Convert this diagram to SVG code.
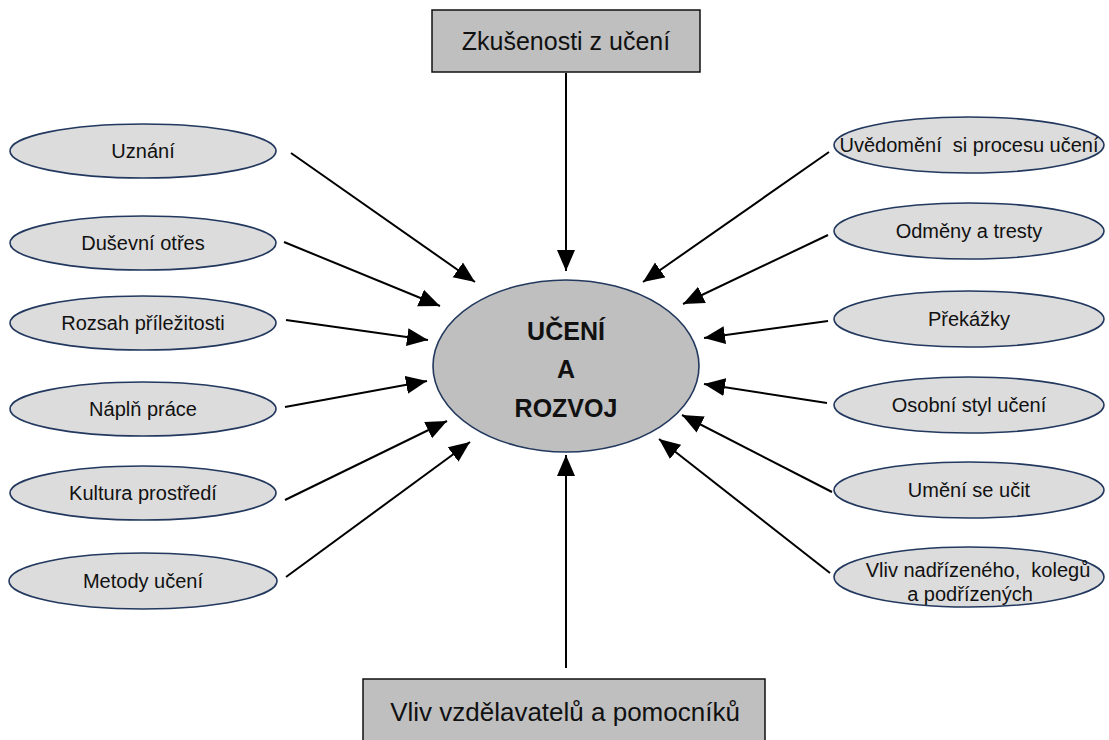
<svg xmlns="http://www.w3.org/2000/svg" width="1109" height="740" viewBox="0 0 1109 740">
<style>
text{font-family:"Liberation Sans",Arial,sans-serif;fill:#111;text-anchor:middle}
.lbl{font-size:20px}
.box{fill:#bfbfbf;stroke:#111;stroke-width:1.5}
.oval{fill:#dcdcdc;stroke:#22385e;stroke-width:1.6}
.core{fill:#bfbfbf;stroke:#22385e;stroke-width:1.6}
.con line{stroke:#000;stroke-width:2;marker-end:url(#ah)}
</style>
<defs>
<marker id="ah" markerUnits="userSpaceOnUse" markerWidth="22" markerHeight="20" refX="21" refY="9" orient="auto" viewBox="0 0 22 18">
<path d="M0,0 L21,9 L0,18 z" fill="#000"/>
</marker>
</defs>
<rect width="1109" height="740" fill="#fff"/>
<g class="con">
<line x1="566" y1="73" x2="566" y2="271"/>
<line x1="566" y1="668" x2="566" y2="455"/>
<line x1="291" y1="153" x2="475" y2="282"/>
<line x1="284" y1="242" x2="440" y2="306"/>
<line x1="286" y1="320" x2="428" y2="340"/>
<line x1="285" y1="407" x2="427" y2="381"/>
<line x1="285" y1="500" x2="447" y2="421"/>
<line x1="286" y1="577" x2="470" y2="442"/>
<line x1="829" y1="152" x2="643" y2="282"/>
<line x1="828" y1="235" x2="683" y2="304"/>
<line x1="828" y1="321" x2="704" y2="338"/>
<line x1="827" y1="403" x2="704" y2="384"/>
<line x1="832" y1="492" x2="682" y2="415"/>
<line x1="830" y1="573" x2="659" y2="439"/>
</g>
<g id="top"><rect class="box" x="432" y="10" width="268" height="62"/><text x="566" y="50" style="font-size:25px">Zkušenosti z učení</text></g>
<g id="bottom"><rect class="box" x="363" y="679" width="402" height="70"/><text x="565" y="721" style="font-size:26px">Vliv vzdělavatelů a pomocníků</text></g>
<g id="center"><ellipse class="core" cx="566" cy="366" rx="133" ry="86"/>
<text x="566" y="340" style="font-size:25px;font-weight:bold">UČENÍ</text>
<text x="566" y="378" style="font-size:25px;font-weight:bold">A</text>
<text x="566" y="417" style="font-size:25px;font-weight:bold">ROZVOJ</text></g>
<g id="uznani"><ellipse class="oval" cx="143" cy="151" rx="133" ry="27"/><text class="lbl" x="143" y="158">Uznání</text></g>
<g id="dusevni"><ellipse class="oval" cx="143" cy="243" rx="133" ry="27"/><text class="lbl" x="143" y="250">Duševní otřes</text></g>
<g id="rozsah"><ellipse class="oval" cx="143" cy="323" rx="133" ry="27"/><text class="lbl" x="143" y="330">Rozsah příležitosti</text></g>
<g id="naplne"><ellipse class="oval" cx="143" cy="409" rx="133" ry="27"/><text class="lbl" x="143" y="416">Náplň práce</text></g>
<g id="kultura"><ellipse class="oval" cx="143" cy="493" rx="133" ry="27"/><text class="lbl" x="143" y="500">Kultura prostředí</text></g>
<g id="metody"><ellipse class="oval" cx="143" cy="581" rx="134" ry="28"/><text class="lbl" x="143" y="588">Metody  učení</text></g>
<g id="uvedomeni"><ellipse class="oval" cx="969" cy="145" rx="135" ry="28"/><text class="lbl" x="969" y="152" xml:space="preserve">Uvědomění  si procesu učení</text></g>
<g id="odmeny"><ellipse class="oval" cx="969" cy="231" rx="135" ry="28"/><text class="lbl" x="969" y="238">Odměny a tresty</text></g>
<g id="prekazky"><ellipse class="oval" cx="969" cy="319" rx="135" ry="28"/><text class="lbl" x="969" y="326">Překážky</text></g>
<g id="osobni"><ellipse class="oval" cx="969" cy="405" rx="135" ry="28"/><text class="lbl" x="969" y="412">Osobní styl učení</text></g>
<g id="umeni"><ellipse class="oval" cx="969" cy="490" rx="135" ry="28"/><text class="lbl" x="969" y="497">Umění se učit</text></g>
<g id="vliv"><ellipse class="oval" cx="969" cy="577" rx="135" ry="30"/><text class="lbl" x="978" y="577" xml:space="preserve">Vliv nadřízeného,  kolegů</text><text class="lbl" x="970" y="601">a podřízených</text></g>
</svg>
